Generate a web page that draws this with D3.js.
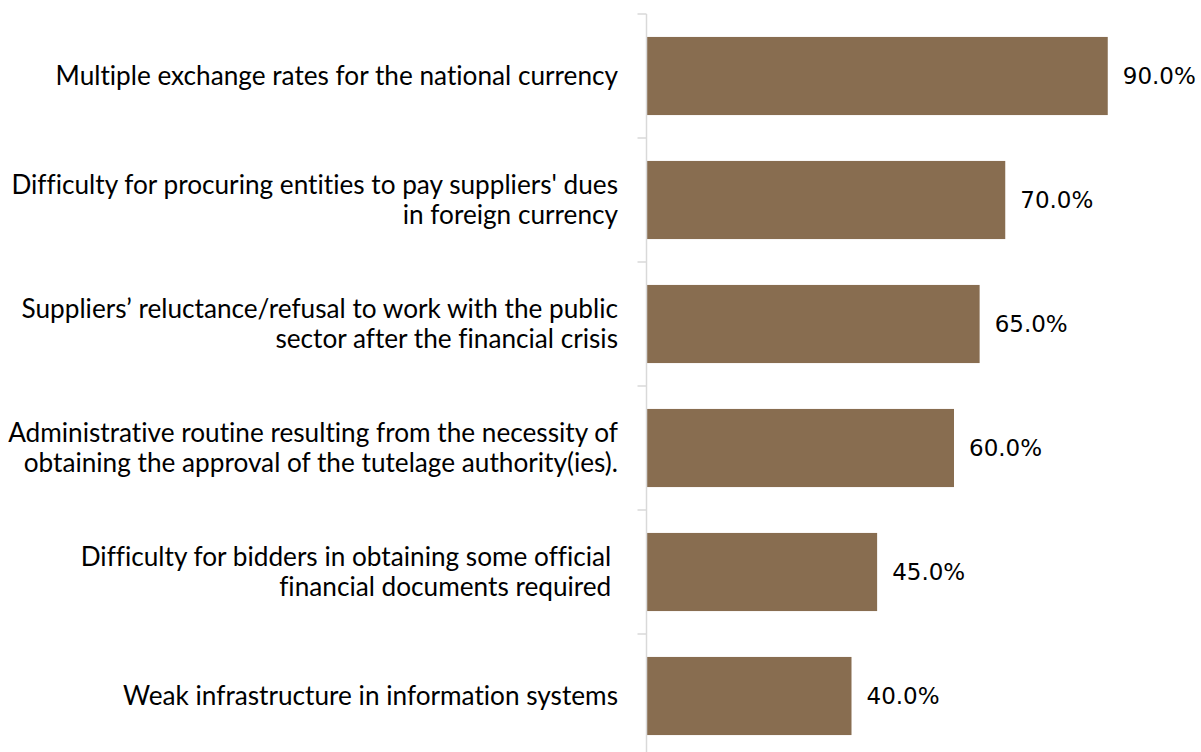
<!DOCTYPE html>
<html>
<head>
<meta charset="utf-8">
<script src="https://cdn.jsdelivr.net/npm/d3@7"></script>
<style>
  html, body { margin: 0; padding: 0; background: #ffffff; }
  svg { display: block; }
  text { font-variant-ligatures: none; }
</style>
</head>
<body>
<svg id="chart" width="1201" height="752"></svg>
<script>
const categories = [
  ["Multiple exchange rates for the national currency"],
  ["Difficulty for procuring entities to pay suppliers' dues", "in foreign currency"],
  ["Suppliers\u2019 reluctance/refusal to work with the public", "sector after the financial crisis"],
  ["Administrative routine resulting from the necessity of", "obtaining the approval of the tutelage authority(ies)."],
  ["Difficulty for bidders in obtaining some official ", "financial documents required "],
  ["Weak infrastructure in information systems"]
];
const values = [90.0, 70.0, 65.0, 60.0, 45.0, 40.0];
const valueLabels = ["90.0%", "70.0%", "65.0%", "60.0%", "45.0%", "40.0%"];

const svg = d3.select("#chart");
const axisX = 646.5;
const x = d3.scaleLinear().domain([0, 100]).range([axisX, axisX + 512.5]);
const y = d3.scaleBand().domain(d3.range(categories.length)).range([14, 758]).paddingInner(0.37).paddingOuter(0.185);

// bars
svg.selectAll("rect.bar").data(values).join("rect")
  .attr("class", "bar")
  .attr("x", x(0))
  .attr("y", (d, i) => y(i))
  .attr("width", d => x(d) - x(0))
  .attr("height", y.bandwidth())
  .attr("fill", "#886D50");

// axis line and ticks
const step = y.step();
const boundaries = d3.range(categories.length + 1).map(i => 14 + i * step);
svg.append("line")
  .attr("x1", axisX).attr("x2", axisX)
  .attr("y1", 14).attr("y2", 758)
  .attr("stroke", "#d9d9d9").attr("stroke-width", 1.5);
svg.selectAll("line.tick").data(boundaries).join("line")
  .attr("class", "tick")
  .attr("x1", axisX - 9).attr("x2", axisX)
  .attr("y1", d => d).attr("y2", d => d)
  .attr("stroke", "#d9d9d9").attr("stroke-width", 1.5);

// category labels
const lineH = 30.5;
const catG = svg.append("g");
categories.forEach((lines, i) => {
  const cy = y(i) + y.bandwidth() / 2;
  const t = catG.append("text")
    .attr("text-anchor", "end")
    .attr("font-family", "Lato, 'Open Sans', sans-serif")
    .attr("font-size", 26.2)
    .attr("fill", "#000")
    .style("white-space", "pre");
  lines.forEach((ln, j) => {
    t.append("tspan")
      .attr("x", 618)
      .attr("y", cy + (j - (lines.length - 1) / 2) * lineH)
      .attr("dy", "0.35em")
      .text(ln);
  });
});

// value labels
svg.selectAll("text.val").data(values).join("text")
  .attr("class", "val")
  .attr("x", d => x(d) + 15)
  .attr("y", (d, i) => y(i) + y.bandwidth() / 2)
  .attr("dy", "0.36em")
  .attr("font-family", "'DejaVu Sans', sans-serif")
  .attr("font-size", 23)
  .attr("fill", "#000")
  .text((d, i) => valueLabels[i]);
</script>
</body>
</html>
